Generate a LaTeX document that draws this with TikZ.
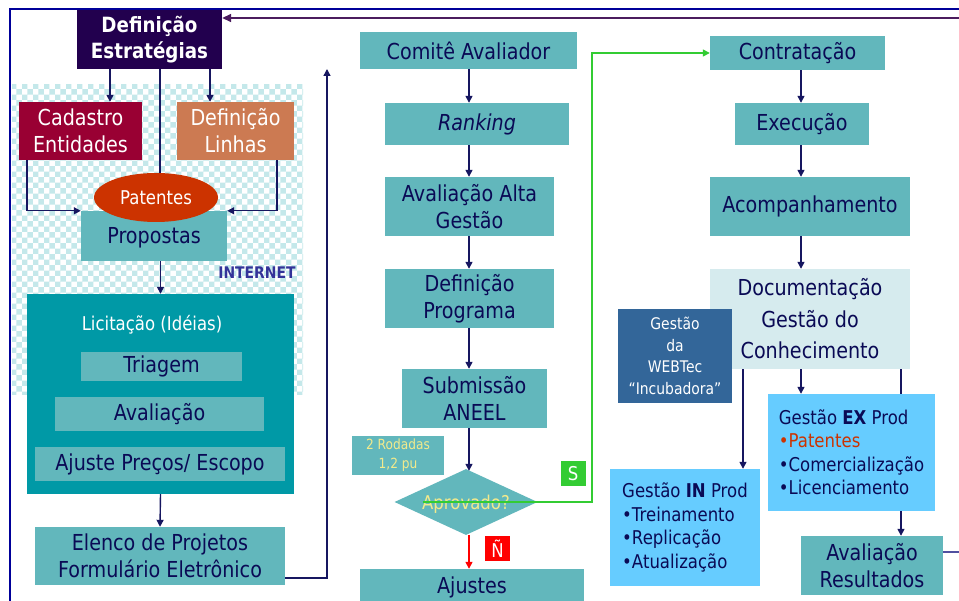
\documentclass[tikz,border=0pt]{standalone}
\usepackage{fontspec}
\setmainfont[FakeStretch=0.87]{DejaVu Sans}
\usetikzlibrary{arrows.meta,shapes.geometric,patterns}
\definecolor{tealbox}{HTML}{62B7BC}
\definecolor{licc}{HTML}{0099A6}
\definecolor{navytxt}{HTML}{0A0A55}
\definecolor{arrc}{HTML}{161660}
\definecolor{defec}{HTML}{22004E}
\definecolor{cadc}{HTML}{990033}
\definecolor{dlinc}{HTML}{CC7A52}
\definecolor{patc}{HTML}{CC3300}
\definecolor{webc}{HTML}{336699}
\definecolor{lblue}{HTML}{66CCFF}
\definecolor{docc}{HTML}{D6EBEE}
\definecolor{yelc}{HTML}{F2EA8C}
\definecolor{grnc}{HTML}{33CC33}
\definecolor{redc}{HTML}{FF0000}
\definecolor{framec}{HTML}{000099}
\definecolor{purc}{HTML}{4B1C5E}
\definecolor{hatchc}{HTML}{C4E8EA}
\definecolor{inetc}{HTML}{333399}
\definecolor{avrline}{HTML}{5050A0}
\newcommand\fsz[2]{\fontsize{#1}{#2}\selectfont}
\begin{document}
\begin{tikzpicture}[x=1pt,y=-1pt,
  tbox/.style={fill=tealbox, text=navytxt, inner sep=0pt, align=center, font=\fsz{22}{27}},
  arr/.style={draw=arrc, line width=1.4pt, -{Triangle[length=7pt,width=7pt]}},
  ln/.style={draw=arrc, line width=1.4pt},
  garr/.style={draw=grnc, line width=1.4pt, -{Triangle[length=7pt,width=7pt]}},
  rarr/.style={draw=redc, line width=1.4pt, -{Triangle[length=7pt,width=7pt]}},
  farr/.style={draw=purc, line width=1.6pt, -{Triangle[length=9pt,width=8pt]}},
  framel/.style={draw=framec, line width=2.4pt},
  tag/.style={inner sep=0pt, text=white, font=\fsz{19}{22}, minimum width=25pt, minimum height=25pt}
]
\useasboundingbox (0,0) rectangle (959,601);
% background
\fill[white] (0,0) rectangle (959,601);
\fill[pattern=checkerboard, pattern color=hatchc] (12,85) rectangle (303,395);

% frame
\coordinate (f1) at (10,601);
\coordinate (f2) at (10,9);
\coordinate (f3) at (959,9);
\draw[framel] (f1) -- (f2) -- (f3);

% left column
\node[fill=defec, text=white, inner sep=0pt, align=center, font=\bfseries\fsz{21}{26},
      minimum width=145pt, minimum height=59pt] (defE) at (149.5,39.5) {Definição\\Estratégias};
\node[tbox, fill=cadc, text=white, minimum width=123pt, minimum height=58pt] (cad) at (80.5,131) {Cadastro\\Entidades};
\node[tbox, fill=dlinc, text=white, minimum width=117pt, minimum height=58pt] (dlin) at (235.5,131) {Definição\\Linhas};
\node[tbox, minimum width=146pt, minimum height=50pt, text depth=0pt] (prop) at (154,236) {};
\node[text=navytxt, inner sep=0pt, font=\fsz{22}{27}] (proptxt) at (154,238) {Propostas};

\draw[arr] ([xshift=-39.5pt]defE.south) -- ([xshift=-39.5pt]defE.south |- cad.north);
\draw[arr] ([xshift=60.5pt]defE.south) -- ([xshift=60.5pt]defE.south |- dlin.north);
\draw[arr] ([xshift=-53.5pt]cad.south) |- (prop.north west);
\draw[arr] ([xshift=41.5pt]dlin.south) |- (prop.north east);
\draw[ln] ([xshift=10.5pt]defE.south) -- ([xshift=10.5pt,yshift=-110pt]defE.south);

\node[ellipse, fill=patc, text=white, inner sep=0pt, minimum width=124pt, minimum height=49pt,
      font=\fsz{19}{22}] (pat) at (156,197.5) {Patentes};

\node[text=inetc, font=\bfseries\fsz{16}{18}, inner sep=0pt] (inet) at (257,273) {INTERNET};

\node[fill=licc, minimum width=267pt, minimum height=200pt, inner sep=0pt] (lic) at (160.5,394) {};
\node[text=white, font=\fsz{19}{22}, inner sep=0pt] (lictit) at (152,325) {Licitação (Idéias)};
\node[tbox, minimum width=161pt, minimum height=29pt] (tri) at (161.5,366.5) {Triagem};
\node[tbox, minimum width=209pt, minimum height=34pt] (aval) at (159.5,414) {Avaliação};
\node[tbox, minimum width=250pt, minimum height=34pt] (ajp) at (160,464) {Ajuste Preços/ Escopo};
\node[tbox, minimum width=250pt, minimum height=58pt] (elenco) at (160,556) {Elenco de Projetos\\Formulário Eletrônico};

\draw[arr] (prop.south -| lic.north) -- (lic.north);
\draw[arr] (lic.south) -- (elenco.north);
\coordinate (upT) at (327,69);
\draw[arr] ([yshift=-22pt]elenco.east) -| (upT);

% middle column
\coordinate (mx) at (469,0);
\node[tbox, minimum width=217pt, minimum height=37pt] (comite) at (468.5,50.5) {Comitê Avaliador};
\node[tbox, minimum width=184pt, minimum height=42pt] (ranking) at (477,124) {\itshape Ranking};
\node[tbox, minimum width=169pt, minimum height=59pt] (aag) at (469.5,206.5) {Avaliação Alta\\Gestão};
\node[tbox, minimum width=169pt, minimum height=59pt] (defprog) at (469.5,298.5) {Definição\\Programa};
\node[tbox, minimum width=145pt, minimum height=59pt] (sub) at (474.5,398.5) {Submissão\\ANEEL};
\node[tbox, text=yelc, font=\fsz{14}{19}, minimum width=92pt, minimum height=39pt] (rod) at (398,455.5) {2 Rodadas\\1,2 pu};
\node[diamond, fill=tealbox, inner sep=0pt, minimum width=143pt, minimum height=66pt] (dia) at (466,502) {};
\node[text=yelc, font=\fsz{19}{22}, inner sep=0pt] (diatxt) at (466,504) {Aprovado?};
\node[tbox, minimum width=224pt, minimum height=36pt] (ajustes) at (472,587) {Ajustes};
\node[tag, fill=grnc] (stag) at (573,473.5) {S};
\node[tag, fill=redc] (ntag) at (497.5,548.5) {Ñ};

\draw[arr] (comite.south -| mx) -- (ranking.north -| mx);
\draw[arr] (ranking.south -| mx) -- (aag.north -| mx);
\draw[arr] (aag.south -| mx) -- (defprog.north -| mx);
\draw[arr] (defprog.south -| mx) -- (sub.north -| mx);
\draw[arr] (sub.south -| mx) -- ([yshift=-2pt]dia.north -| mx);
\draw[rarr] (dia.south -| mx) -- (ajustes.north -| mx);

% right column
\coordinate (rx) at (801,0);
\node[tbox, minimum width=175pt, minimum height=34pt] (contr) at (797.5,53) {Contratação};
\node[tbox, minimum width=134pt, minimum height=42pt] (exec) at (802,124) {Execução};
\node[tbox, minimum width=200pt, minimum height=59pt] (acomp) at (810,206.5) {Acompanhamento};
\node[tbox, fill=docc, font=\fsz{22}{31.5}, minimum width=200pt, minimum height=100pt] (doc) at (810,319) {Documentação\\Gestão do\\Conhecimento};
\node[tbox, fill=webc, text=white, font=\fsz{16}{21.5}, minimum width=114pt, minimum height=94pt] (web) at (675,356) {Gestão\\da\\WEBTec\\“Incubadora”};

\draw[arr] (contr.south -| rx) -- (exec.north -| rx);
\draw[arr] (exec.south -| rx) -- (acomp.north -| rx);
\draw[arr] (acomp.south -| rx) -- (doc.north -| rx);

\coordinate (dx1) at (743,0);
\coordinate (dx3) at (901,0);
\node[tbox, minimum width=142pt, minimum height=59pt] (avres) at (872,565.5) {Avaliação\\Resultados};
\draw[arr] (doc.south -| dx3) -- (avres.north -| dx3);
\node[tbox, fill=lblue, align=left, font=\fsz{19}{23.5}, minimum width=167pt, minimum height=117pt] (exbox) at (851.5,452.5)
  {Gestão \textbf{EX} Prod\\\textcolor{patc}{•Patentes}\\•Comercialização\\•Licenciamento};
\node[tbox, fill=lblue, align=left, font=\fsz{19}{23.5}, minimum width=150pt, minimum height=117pt] (inbox) at (685,527.5)
  {Gestão \textbf{IN} Prod\\•Treinamento\\•Replicação\\•Atualização};
\draw[arr] (doc.south -| dx1) -- (inbox.north -| dx1);
\draw[arr] (doc.south -| rx) -- (exbox.north -| rx);

\coordinate (rR) at (959,552);
\draw[draw=avrline, line width=1.4pt] ([yshift=13.5pt]avres.east) -- (rR);

% green path
\coordinate (gS) at (423,502);
\coordinate (gB) at (592,502);
\draw[garr] (gS) -- (gB) |- (contr.west);

% feedback line
\coordinate (fb) at (959,18);
\draw[farr] (fb) -- (fb -| defE.east);
\end{tikzpicture}
\end{document}
